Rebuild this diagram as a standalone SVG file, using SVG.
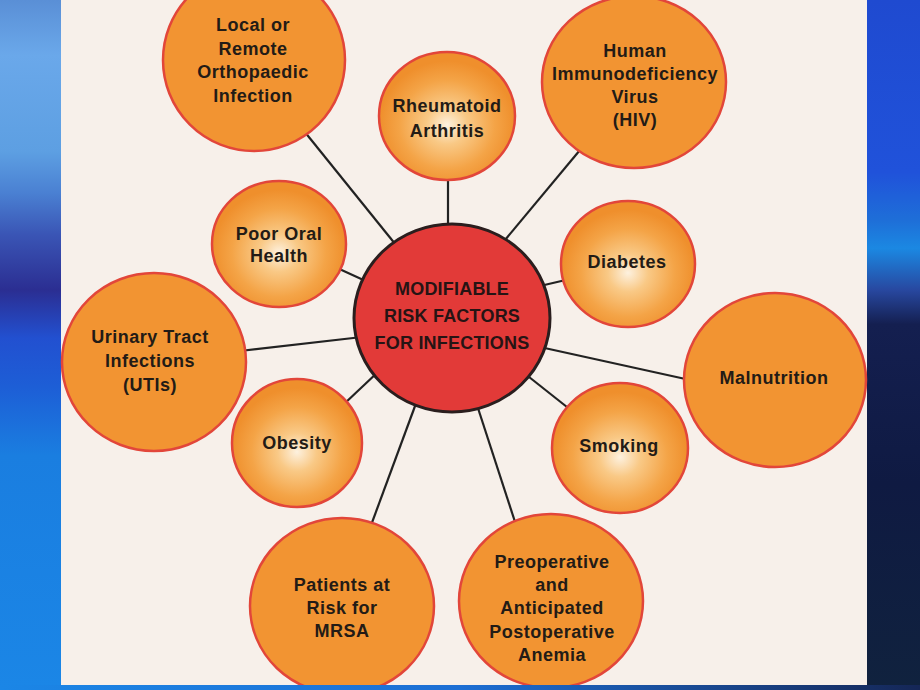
<svg xmlns="http://www.w3.org/2000/svg" width="920" height="690" viewBox="0 0 920 690">
<defs>
<linearGradient id="bgL" x1="0" y1="0" x2="0" y2="1">
<stop offset="0" stop-color="#5a8fd6"/>
<stop offset="0.08" stop-color="#6aa8ea"/>
<stop offset="0.22" stop-color="#5d9fe2"/>
<stop offset="0.28" stop-color="#4a80d2"/>
<stop offset="0.34" stop-color="#3a55b5"/>
<stop offset="0.42" stop-color="#2b2e92"/>
<stop offset="0.49" stop-color="#2250d0"/>
<stop offset="0.56" stop-color="#1d5ed6"/>
<stop offset="0.66" stop-color="#1a7ee0"/>
<stop offset="1" stop-color="#1b86e6"/>
</linearGradient>
<linearGradient id="bgR" x1="0" y1="0" x2="0" y2="1">
<stop offset="0" stop-color="#1f4ad0"/>
<stop offset="0.25" stop-color="#2052da"/>
<stop offset="0.32" stop-color="#1e6fd8"/>
<stop offset="0.36" stop-color="#1b88e2"/>
<stop offset="0.42" stop-color="#2848a0"/>
<stop offset="0.47" stop-color="#141f50"/>
<stop offset="0.7" stop-color="#0f1a42"/>
<stop offset="1" stop-color="#10223e"/>
</linearGradient>
<linearGradient id="bgB" x1="0" y1="0" x2="1" y2="0">
<stop offset="0" stop-color="#1b86e6"/>
<stop offset="0.5" stop-color="#1d6fd4"/>
<stop offset="1" stop-color="#152656"/>
</linearGradient>
<radialGradient id="glow" cx="0.5" cy="0.57" r="0.5">
<stop offset="0" stop-color="#fdf1df"/>
<stop offset="0.3" stop-color="#f9c986"/>
<stop offset="0.7" stop-color="#f4a447"/>
<stop offset="1" stop-color="#ef8f2c"/>
</radialGradient>
<style>
.flat{fill:#f29432;stroke:#e2463a;stroke-width:2.5}
.soft{fill:url(#glow);stroke:#e2463a;stroke-width:2.5}
.hub{fill:#e23a38;stroke:#2a1e1e;stroke-width:3}
.t{font-family:"Liberation Sans",Arial,sans-serif;font-weight:bold;font-size:18px;fill:#231b16;text-anchor:middle;letter-spacing:0.5px}
.h{font-family:"Liberation Sans",Arial,sans-serif;font-weight:bold;font-size:18px;fill:#261414;text-anchor:middle;letter-spacing:0.2px}
#connectors line{stroke:#222;stroke-width:2.2}
</style>
</defs>
<rect x="0" y="0" width="62" height="690" fill="url(#bgL)"/>
<rect x="866" y="0" width="54" height="690" fill="url(#bgR)"/>
<rect x="61" y="0" width="806" height="685" fill="#f7f0ea"/>

<g id="connectors">
<line x1="300" y1="126" x2="400" y2="250"/>
<line x1="448" y1="175" x2="448" y2="230"/>
<line x1="585" y1="144" x2="500" y2="246"/>
<line x1="335" y1="267" x2="370" y2="283"/>
<line x1="540" y1="286" x2="570" y2="279"/>
<line x1="240" y1="351" x2="362" y2="337"/>
<line x1="540" y1="347" x2="690" y2="380"/>
<line x1="524" y1="373" x2="572" y2="411"/>
<line x1="344" y1="404" x2="379" y2="371"/>
<line x1="370" y1="528" x2="418" y2="398"/>
<line x1="476" y1="402" x2="517" y2="528"/>
</g>

<g id="n-local">
<ellipse class="flat" cx="254" cy="60" rx="91" ry="91"/>
<text class="t" x="253" y="31">Local or</text>
<text class="t" x="253" y="55">Remote</text>
<text class="t" x="253" y="78">Orthopaedic</text>
<text class="t" x="253" y="102">Infection</text>
</g>
<g id="n-rheumatoid">
<ellipse class="soft" cx="447" cy="116" rx="68" ry="64"/>
<text class="t" x="447" y="112">Rheumatoid</text>
<text class="t" x="447" y="137">Arthritis</text>
</g>
<g id="n-hiv">
<ellipse class="flat" cx="634" cy="82" rx="92" ry="86"/>
<text class="t" x="635" y="57">Human</text>
<text class="t" x="635" y="80">Immunodeficiency</text>
<text class="t" x="635" y="103">Virus</text>
<text class="t" x="635" y="126">(HIV)</text>
</g>
<g id="n-oral">
<ellipse class="soft" cx="279" cy="244" rx="67" ry="63"/>
<text class="t" x="279" y="240">Poor Oral</text>
<text class="t" x="279" y="262">Health</text>
</g>
<g id="n-diabetes">
<ellipse class="soft" cx="628" cy="264" rx="67" ry="63"/>
<text class="t" x="627" y="268">Diabetes</text>
</g>
<g id="n-uti">
<ellipse class="flat" cx="154" cy="362" rx="92" ry="89"/>
<text class="t" x="150" y="343">Urinary Tract</text>
<text class="t" x="150" y="367">Infections</text>
<text class="t" x="150" y="391">(UTIs)</text>
</g>
<g id="n-malnutrition">
<ellipse class="flat" cx="775" cy="380" rx="91" ry="87"/>
<text class="t" x="774" y="384">Malnutrition</text>
</g>
<g id="n-smoking">
<ellipse class="soft" cx="620" cy="448" rx="68" ry="65"/>
<text class="t" x="619" y="452">Smoking</text>
</g>
<g id="n-obesity">
<ellipse class="soft" cx="297" cy="443" rx="65" ry="64"/>
<text class="t" x="297" y="449">Obesity</text>
</g>
<g id="n-mrsa">
<ellipse class="flat" cx="342" cy="606" rx="92" ry="88"/>
<text class="t" x="342" y="591">Patients at</text>
<text class="t" x="342" y="614">Risk for</text>
<text class="t" x="342" y="637">MRSA</text>
</g>
<g id="n-anemia">
<ellipse class="flat" cx="551" cy="601" rx="92" ry="87"/>
<text class="t" x="552" y="568">Preoperative</text>
<text class="t" x="552" y="591">and</text>
<text class="t" x="552" y="614">Anticipated</text>
<text class="t" x="552" y="638">Postoperative</text>
<text class="t" x="552" y="661">Anemia</text>
</g>
<g id="n-hub">
<ellipse class="hub" cx="452" cy="318" rx="98" ry="94"/>
<text class="h" x="452" y="295">MODIFIABLE</text>
<text class="h" x="452" y="322">RISK FACTORS</text>
<text class="h" x="452" y="349">FOR INFECTIONS</text>
</g>
<rect x="0" y="685" width="920" height="5" fill="url(#bgB)"/>
</svg>
